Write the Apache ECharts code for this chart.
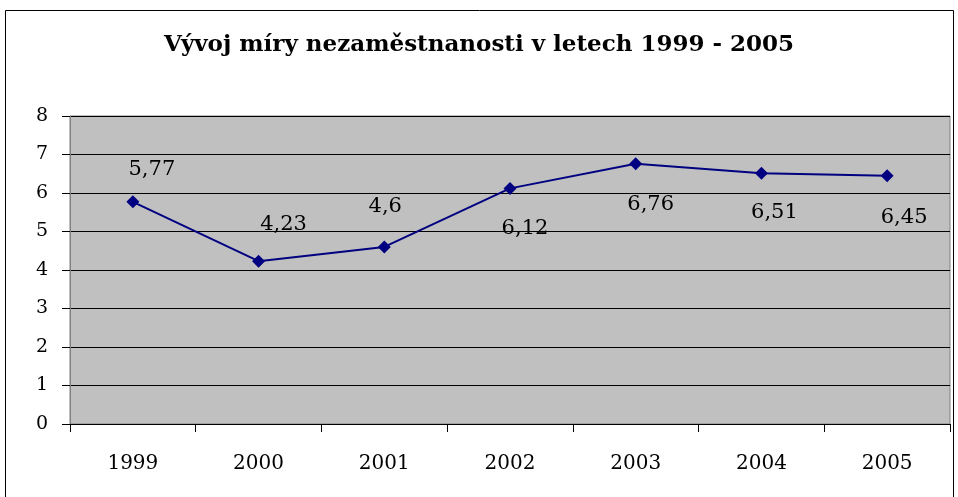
<!DOCTYPE html>
<html>
<head>
<meta charset="utf-8">
<script src="https://cdn.jsdelivr.net/npm/echarts@6/dist/echarts.min.js"></script>
<style>
  html, body { margin: 0; padding: 0; background: #fff; }
  #chart { width: 958px; height: 497px; }
</style>
</head>
<body>
<div id="chart"></div>
<script>
// roky a míra nezaměstnanosti (%)
const years = ['1999', '2000', '2001', '2002', '2003', '2004', '2005']
const rates = [5.77, 4.23, 4.6, 6.12, 6.76, 6.51, 6.45]
const yTicks = [0, 1, 2, 3, 4, 5, 6, 7, 8]
// posun popisků jako v originále (nad/pod bodem)
const labelShift = [[19, -32], [25, -37], [1, -40], [15, 40], [15, 41], [13, 39], [17, 42]]

const serif = '"DejaVu Serif", "Liberation Serif", serif'
const chart = echarts.init(document.getElementById('chart'))

const option = {
  animation: false,
  title: {
    text: 'Vývoj míry nezaměstnanosti v letech 1999 - 2005',
    left: 'center',
    top: 29,
    textStyle: { fontFamily: serif, fontWeight: 'bold', fontSize: 23, color: '#000' }
  },
  graphic: [{
    type: 'rect',
    shape: { x: 5.5, y: 10.5, width: 948, height: 520 },
    style: { fill: 'none', stroke: '#000', lineWidth: 1 },
    silent: true
  }],
  grid: {
    left: 70, right: 8, top: 116, bottom: 73,
    show: true,
    backgroundColor: '#c0c0c0',
    borderColor: '#808080',
    borderWidth: 1
  },
  xAxis: {
    type: 'category',
    data: years,
    boundaryGap: true,
    axisLine: { lineStyle: { color: '#000', width: 1 } },
    axisTick: { show: true, length: 8, lineStyle: { color: '#000' } },
    axisLabel: { margin: 30, fontFamily: serif, fontSize: 20, color: '#000' }
  },
  yAxis: {
    type: 'value',
    min: yTicks[0],
    max: yTicks[yTicks.length - 1],
    interval: 1,
    axisLine: { show: true, lineStyle: { color: '#808080' } },
    axisTick: { show: true, length: 8, lineStyle: { color: '#000' } },
    axisLabel: { margin: 22, fontFamily: serif, fontSize: 19, color: '#000' },
    splitLine: { lineStyle: { color: '#000', width: 1 } }
  },
  series: [{
    type: 'line',
    data: rates.map((v, i) => ({
      value: v,
      label: { offset: labelShift[i] }
    })),
    symbol: 'diamond',
    symbolSize: 13,
    lineStyle: { color: '#000080', width: 2 },
    itemStyle: { color: '#000080' },
    label: {
      show: true,
      position: 'inside',
      fontFamily: serif,
      fontSize: 21,
      color: '#000',
      formatter: p => String(p.value).replace('.', ',')
    }
  }]
}
chart.setOption(option)
</script>
</body>
</html>
